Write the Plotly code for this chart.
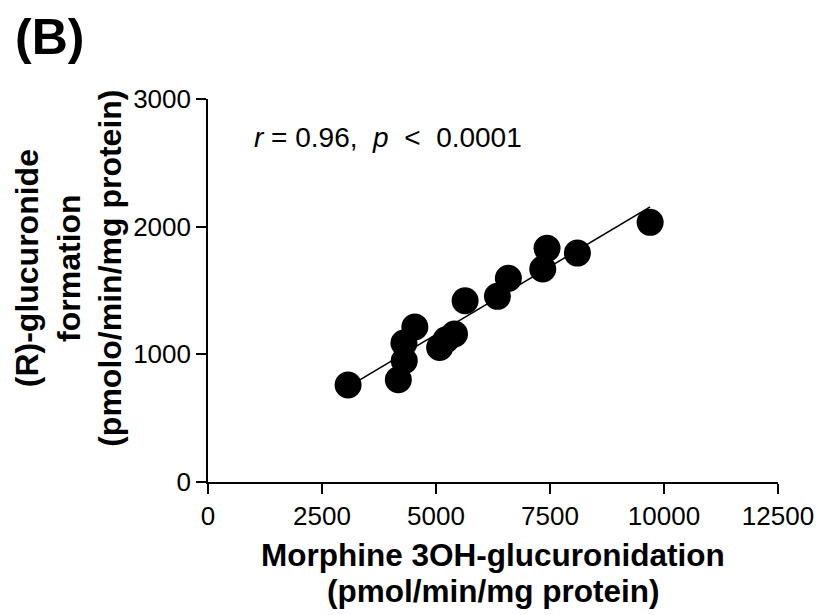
import numpy as np
import plotly.graph_objects as go

# Data
morphine_3oh = [3072, 4174, 4304, 4297, 4536, 5080, 5220, 5406, 5638, 6348, 6587, 7341, 7435, 8101, 9696]
r_glucuronide = [760, 801, 950, 1088, 1214, 1054, 1114, 1159, 1420, 1454, 1595, 1668, 1830, 1793, 2034]

x_ticks = [0, 2500, 5000, 7500, 10000, 12500]
y_ticks = [0, 1000, 2000, 3000]

stat_text = "<i>r</i> = 0.96,&nbsp; <i>p</i> &nbsp;<&nbsp; 0.0001"
panel_label = "(B)"
x_title_lines = ["Morphine 3OH-glucuronidation", "(pmol/min/mg protein)"]
y_title = "(R)-glucuronide<br>formation<br>(pmolo/min/mg protein)"

FONT = "Liberation Sans, Arial, sans-serif"

# Plot area in page pixels
X0, X1 = 208.3, 783.3
Y0, Y1 = 482.3, 99.0
W, H = 826, 615


def px_to_paper(px, py):
    return (px - X0) / (X1 - X0), (Y0 - py) / (Y0 - Y1)


# Linear regression line over the data range
slope, intercept = np.polyfit(morphine_3oh, r_glucuronide, 1)
fit_x = [min(morphine_3oh), max(morphine_3oh)]
fit_y = [slope * v + intercept for v in fit_x]

fig = go.Figure()
fig.add_trace(go.Scatter(x=fit_x, y=fit_y, mode="lines",
                         line=dict(color="black", width=1.6), showlegend=False))
fig.add_trace(go.Scatter(x=morphine_3oh, y=r_glucuronide, mode="markers",
                         marker=dict(color="black", size=27, line=dict(width=0)),
                         showlegend=False))

axis_common = dict(showline=True, linecolor="black", linewidth=1.6, ticks="outside",
                   ticklen=10, tickwidth=1.6, tickcolor="black", showgrid=False,
                   zeroline=False, tickfont=dict(family=FONT, size=26, color="black"))

fig.update_xaxes(range=[0, 12500], tickvals=x_ticks, ticktext=[str(v) for v in x_ticks],
                 **axis_common)
fig.update_yaxes(range=[0, 3000], tickvals=y_ticks, ticktext=[str(v) for v in y_ticks],
                 **axis_common)

bx, by = px_to_paper(12, 37)
yx, yy = px_to_paper(68, 268)
t1x, t1y = px_to_paper(495.8, 555)
t2x, t2y = px_to_paper(495.8, 591)

annotations = [
    dict(text=stat_text, x=972, y=2695, xref="x", yref="y", xanchor="left", yanchor="middle",
         showarrow=False, font=dict(family=FONT, size=28, color="black")),
    dict(text="<b>" + panel_label + "</b>", x=bx, y=by, xref="paper", yref="paper",
         xanchor="left", yanchor="middle", showarrow=False,
         font=dict(family=FONT, size=50, color="black")),
    dict(text="<b>" + y_title + "</b>", x=yx, y=yy, xref="paper", yref="paper",
         xanchor="center", yanchor="middle", textangle=-90, showarrow=False,
         font=dict(family=FONT, size=32, color="black")),
    dict(text="<b>" + x_title_lines[0] + "</b>", x=t1x, y=t1y, xref="paper", yref="paper",
         xanchor="center", yanchor="middle", showarrow=False,
         font=dict(family=FONT, size=31.5, color="black")),
    dict(text="<b>" + x_title_lines[1] + "</b>", x=t2x, y=t2y, xref="paper", yref="paper",
         xanchor="center", yanchor="middle", showarrow=False,
         font=dict(family=FONT, size=31.5, color="black")),
]

fig.update_layout(width=W, height=H,
                  margin=dict(l=X0, r=W - X1, t=Y1, b=H - Y0),
                  plot_bgcolor="white", paper_bgcolor="white",
                  annotations=annotations, font=dict(family=FONT, color="black"))

fig.write_html(
    "out.html",
    config={"displayModeBar": False},
    post_script="document.body.style.margin='0';document.body.style.overflow='hidden';",
)
